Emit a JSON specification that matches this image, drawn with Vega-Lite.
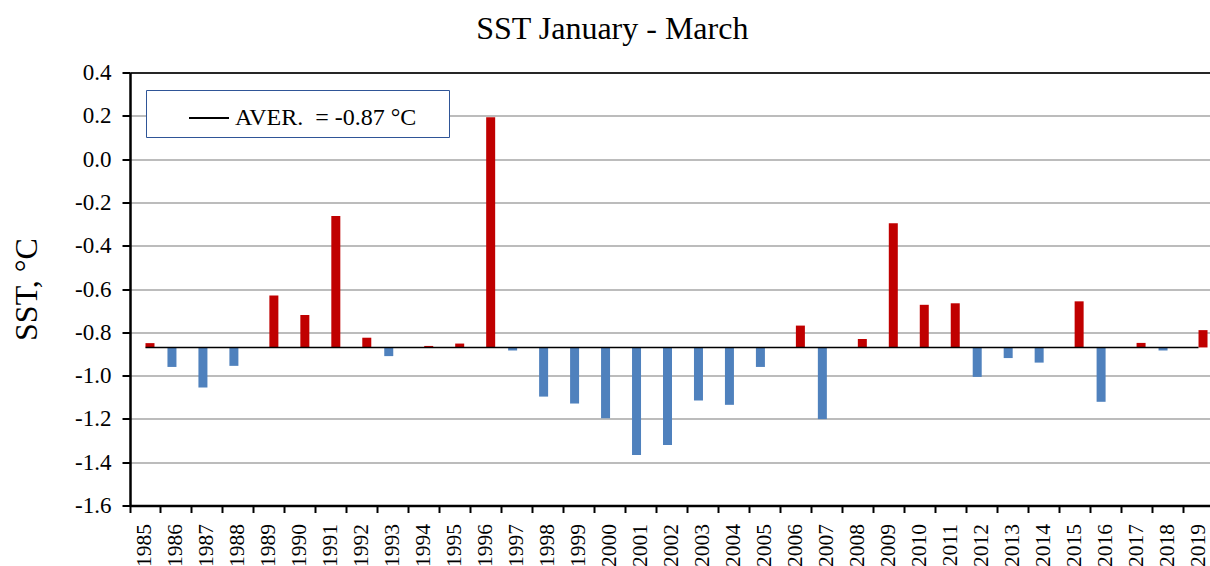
{
  "$schema": "https://vega.github.io/schema/vega-lite/v6.json",
  "width": 1080,
  "height": 433,
  "autosize": {"type": "none"},
  "padding": {"left": 130, "top": 72.5, "right": 0, "bottom": 60.5},
  "background": "white",
  "title": {"text": "SST January - March", "font": "Liberation Serif", "fontSize": 32, "fontWeight": "normal", "color": "black", "anchor": "middle", "frame": "bounds", "baseline": "alphabetic", "offset": -9},
  "config": {"view": {"stroke": null}, "font": "Liberation Serif"},
  "data": {"values": [
    {"year": "1985", "sst": -0.85, "aver": -0.87, "sign": "above"},
    {"year": "1986", "sst": -0.96, "aver": -0.87, "sign": "below"},
    {"year": "1987", "sst": -1.055, "aver": -0.87, "sign": "below"},
    {"year": "1988", "sst": -0.955, "aver": -0.87, "sign": "below"},
    {"year": "1989", "sst": -0.63, "aver": -0.87, "sign": "above"},
    {"year": "1990", "sst": -0.72, "aver": -0.87, "sign": "above"},
    {"year": "1991", "sst": -0.263, "aver": -0.87, "sign": "above"},
    {"year": "1992", "sst": -0.825, "aver": -0.87, "sign": "above"},
    {"year": "1993", "sst": -0.91, "aver": -0.87, "sign": "below"},
    {"year": "1994", "sst": -0.863, "aver": -0.87, "sign": "above"},
    {"year": "1995", "sst": -0.852, "aver": -0.87, "sign": "above"},
    {"year": "1996", "sst": 0.193, "aver": -0.87, "sign": "above"},
    {"year": "1997", "sst": -0.884, "aver": -0.87, "sign": "below"},
    {"year": "1998", "sst": -1.097, "aver": -0.87, "sign": "below"},
    {"year": "1999", "sst": -1.129, "aver": -0.87, "sign": "below"},
    {"year": "2000", "sst": -1.197, "aver": -0.87, "sign": "below"},
    {"year": "2001", "sst": -1.367, "aver": -0.87, "sign": "below"},
    {"year": "2002", "sst": -1.32, "aver": -0.87, "sign": "below"},
    {"year": "2003", "sst": -1.115, "aver": -0.87, "sign": "below"},
    {"year": "2004", "sst": -1.135, "aver": -0.87, "sign": "below"},
    {"year": "2005", "sst": -0.96, "aver": -0.87, "sign": "below"},
    {"year": "2006", "sst": -0.769, "aver": -0.87, "sign": "above"},
    {"year": "2007", "sst": -1.201, "aver": -0.87, "sign": "below"},
    {"year": "2008", "sst": -0.831, "aver": -0.87, "sign": "above"},
    {"year": "2009", "sst": -0.296, "aver": -0.87, "sign": "above"},
    {"year": "2010", "sst": -0.673, "aver": -0.87, "sign": "above"},
    {"year": "2011", "sst": -0.666, "aver": -0.87, "sign": "above"},
    {"year": "2012", "sst": -1.006, "aver": -0.87, "sign": "below"},
    {"year": "2013", "sst": -0.919, "aver": -0.87, "sign": "below"},
    {"year": "2014", "sst": -0.94, "aver": -0.87, "sign": "below"},
    {"year": "2015", "sst": -0.657, "aver": -0.87, "sign": "above"},
    {"year": "2016", "sst": -1.121, "aver": -0.87, "sign": "below"},
    {"year": "2017", "sst": -0.849, "aver": -0.87, "sign": "above"},
    {"year": "2018", "sst": -0.884, "aver": -0.87, "sign": "below"},
    {"year": "2019", "sst": -0.79, "aver": -0.87, "sign": "above"}
  ]},
  "layer": [
    {
      "mark": {"type": "bar"},
      "encoding": {
        "x": {
          "field": "year", "type": "ordinal",
          "scale": {"range": [0, 1084], "paddingInner": 0, "paddingOuter": 0},
          "axis": {
            "title": null, "bandPosition": 0, "labelAngle": -90,
            "labelFont": "Liberation Serif", "labelFontSize": 21.5, "labelColor": "black",
            "labelPadding": 11, "tickSize": 7, "tickColor": "black", "tickWidth": 2,
            "domainColor": "black", "domainWidth": 2.5, "grid": false
          }
        },
        "xOffset": {"field": "sign", "type": "nominal", "scale": {"domain": ["below", "above"], "paddingInner": 0, "paddingOuter": 0.72}},
        "y": {
          "field": "sst", "type": "quantitative",
          "scale": {"domain": [-1.6, 0.4], "nice": false, "zero": false},
          "axis": {
            "values": [-1.6, -1.4, -1.2, -1.0, -0.8, -0.6, -0.4, -0.2, 0, 0.2, 0.4],
            "labelExpr": "replace(format(datum.value, '.1f'), '\u2212', '-')",
            "labelFont": "Liberation Serif", "labelFontSize": 23, "labelColor": "black",
            "labelPadding": 11, "tickSize": 8, "tickColor": "black", "tickWidth": 2,
            "domainColor": "black", "domainWidth": 2.5,
            "grid": true,
            "gridColor": {"condition": {"test": "datum.value > 0.39", "value": "#262626"}, "value": "#a6a6a6"},
            "gridWidth": {"condition": {"test": "datum.value > 0.39", "value": 2}, "value": 1.5},
            "title": "SST, °C", "titleFont": "Liberation Serif", "titleFontSize": 32,
            "titleFontWeight": "normal", "titleColor": "black", "titlePadding": 31
          }
        },
        "y2": {"field": "aver"},
        "fill": {"field": "sign", "type": "nominal", "scale": {"domain": ["above", "below"], "range": ["#C00000", "#4F81BD"]}, "legend": null}
      }
    },
    {
      "mark": {"type": "line", "strokeWidth": 1.5},
      "encoding": {
        "x": {"field": "year", "type": "ordinal"},
        "y": {"field": "aver", "type": "quantitative"},
        "stroke": {
          "datum": "AVER.\u00a0 = -0.87 °C",
          "type": "nominal",
          "scale": {"range": ["black"]},
          "legend": {
            "title": "\u00a0", "titleOrient": "right", "titlePadding": 26, "titleFontSize": 4,
            "orient": "none", "legendX": 16, "legendY": 17.5,
            "symbolType": "stroke", "symbolSize": 1600, "symbolStrokeWidth": 2,
            "labelFont": "Liberation Serif", "labelFontSize": 24, "labelColor": "black", "labelLimit": 400,
            "strokeColor": "#2F5597", "fillColor": "white", "padding": 7,
            "symbolOffset": 35, "labelOffset": 5
          }
        }
      }
    }
  ]
}
